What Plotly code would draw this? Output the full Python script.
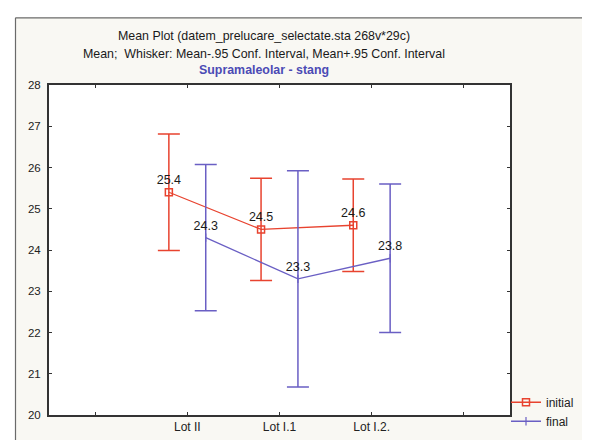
import plotly.graph_objects as go

# ---- data ----
categories = ["Lot II", "Lot I.1", "Lot I.2."]
initial_mean = [25.4, 24.5, 24.6]
initial_ci = [1.41, 1.24, 1.12]
final_mean = [24.3, 23.3, 23.8]
final_ci = [1.77, 2.62, 1.80]
y_ticks = [20, 21, 22, 23, 24, 25, 26, 27, 28]

# ---- layout constants ----
RED = "#e8432f"
BLUE = "#6a5fc4"
FONT = "Liberation Sans, Arial, sans-serif"
L, R, T, B = 41, 88, 77, 24
W, H = 590, 440
PW, PH = W - L - R, H - T - B

def px_x(px):
    return (px - L) / PW

def px_y(py):
    return (H - B - py) / PH

cat_pos = list(range(1, len(categories) + 1))
offset = 0.2
x_initial = [c - offset for c in cat_pos]
x_final = [c + offset for c in cat_pos]

fig = go.Figure()

fig.add_trace(go.Scatter(
    x=x_initial, y=initial_mean, name="initial",
    mode="lines+markers+text",
    text=[f"{v:.1f}" for v in initial_mean],
    textposition="top center",
    textfont=dict(family=FONT, size=12.5, color="#1a1a1a"),
    line=dict(color=RED, width=1.3),
    marker=dict(symbol="square-open", size=7, color=RED, line=dict(width=1.5, color=RED)),
    error_y=dict(type="data", array=initial_ci, visible=True, color=RED, thickness=1.5, width=11),
))

fig.add_trace(go.Scatter(
    x=x_final, y=final_mean, name="final",
    mode="lines+markers+text",
    text=[f"{v:.1f}" for v in final_mean],
    textposition="top center",
    textfont=dict(family=FONT, size=12.5, color="#1a1a1a"),
    line=dict(color=BLUE, width=1.3),
    marker=dict(symbol="line-ns", size=6, color=BLUE, line=dict(width=1.2, color=BLUE)),
    error_y=dict(type="data", array=final_ci, visible=True, color=BLUE, thickness=1.5, width=11),
))

titles = [
    ("Mean Plot (datem_prelucare_selectate.sta 268v*29c)", 27, "#1a1a1a", False),
    ("Mean;  Whisker: Mean-.95 Conf. Interval, Mean+.95 Conf. Interval", 45, "#1a1a1a", False),
    ("Supramaleolar - stang", 62, "#4b4bb5", True),
]
annotations = []
for txt, py, col, bold in titles:
    annotations.append(dict(
        text=f"<b>{txt}</b>" if bold else txt,
        x=px_x(256), y=px_y(py), xref="paper", yref="paper",
        xanchor="center", yanchor="middle", showarrow=False,
        font=dict(family=FONT, size=12.4, color=col),
    ))

shapes = [
    # white strips outside the scanned frame
    dict(type="rect", xref="paper", yref="paper", x0=-0.3, x1=1.4, y0=px_y(8), y1=1.5,
         fillcolor="white", line=dict(width=0), layer="below"),
    dict(type="rect", xref="paper", yref="paper", x0=-0.3, x1=px_x(7.5), y0=-0.3, y1=1.5,
         fillcolor="white", line=dict(width=0), layer="below"),
    # frame lines
    dict(type="line", xref="paper", yref="paper", x0=px_x(7.5), x1=1.4, y0=px_y(8), y1=px_y(8),
         line=dict(color="#6a6a6a", width=1.2)),
    dict(type="line", xref="paper", yref="paper", x0=px_x(7.5), x1=px_x(7.5), y0=-0.3, y1=px_y(8),
         line=dict(color="#6a6a6a", width=1.2)),
]

fig.update_layout(
    width=W, height=H,
    margin=dict(l=L, r=R, t=T, b=B, pad=0),
    paper_bgcolor="#f9f8f3",
    plot_bgcolor="#ffffff",
    font=dict(family=FONT, size=12, color="#222222"),
    annotations=annotations,
    shapes=shapes,
    showlegend=True,
    legend=dict(
        x=px_x(498), y=px_y(388), xanchor="left", yanchor="top",
        bgcolor="rgba(0,0,0,0)", borderwidth=0,
        font=dict(family=FONT, size=12, color="#222222"),
    ),
    xaxis=dict(
        range=[-0.5, len(categories) + 1.5],
        tickmode="array", tickvals=[0] + cat_pos + [len(categories) + 1],
        ticktext=[""] + categories + [""],
        showgrid=False, zeroline=False,
        showline=True, linecolor="#333333", linewidth=2, mirror="ticks",
        ticks="inside", ticklen=3, tickcolor="#333333",
        tickfont=dict(family=FONT, size=12, color="#222222"),
    ),
    yaxis=dict(
        range=[20, 28],
        tickmode="array", tickvals=y_ticks,
        showgrid=False, zeroline=False,
        showline=True, linecolor="#333333", linewidth=2, mirror="ticks",
        ticks="inside", ticklen=3, tickcolor="#333333",
        ticklabelstandoff=4,
        tickfont=dict(family=FONT, size=11.5, color="#222222"),
    ),
)

fig.write_html("out.html")
